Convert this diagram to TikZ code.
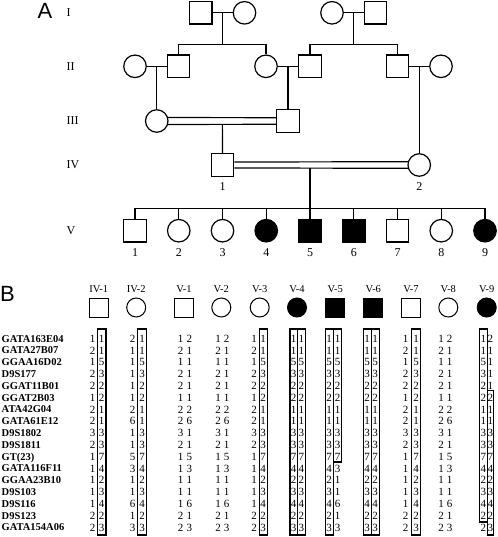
\documentclass[tikz,border=0pt]{standalone}
\usepackage{fontspec}
\setmainfont{Liberation Serif}
\newfontfamily\panelfont{Liberation Sans}
\usetikzlibrary{calc}
\def\hapA{1,1,5,3,2,2,1,1,3,3,7,4,2,3,4,2,3}
\def\hapB{1,2,1,2,2,1,2,2,3,2,1,1,1,1,1,2,2}
\def\hapC{2,1,1,1,1,1,2,6,1,1,5,3,1,1,6,1,3}
\def\hapD{1,1,5,3,2,2,1,1,3,3,7,3,1,1,6,1,3}
\def\hapE{1,1,5,3,2,2,1,1,3,3,7,4,2,3,4,2,2}
\def\hapF{2,1,1,1,1,2,1,1,3,3,7,4,2,3,4,2,3}
\newcommand\allelecol[3]{%
  \foreach \v [count=\r] in #3 {
    \node[dg] (#1-\r) at (#2, {338.5+(\r-1)*11.8+3.7}) {\v};
  }}
\newcommand\hapbox[4]{\draw[bx] (#1,#3) rectangle (#2,#4);}
\begin{document}
\begin{tikzpicture}[x=1pt,y=-1pt,
  pl/.style={line width=1.2pt},
  msq/.style={draw, line width=1.2pt, minimum size=22.5pt, inner sep=0pt},
  fci/.style={circle, draw, line width=1.2pt, minimum size=22.5pt, inner sep=0pt},
  aff/.style={fill=black},
  gen/.style={anchor=base west, font=\fontsize{12}{14}\selectfont, inner sep=0pt},
  num/.style={anchor=base, font=\fontsize{12}{14}\selectfont, inner sep=0pt},
  panel/.style={font=\panelfont\fontsize{22}{24}\selectfont, inner sep=0pt},
  hdr/.style={anchor=base, font=\fontsize{10.5}{12}\selectfont, inner sep=0pt},
  bsq/.style={draw, line width=1pt, minimum size=19pt, inner sep=0pt},
  bci/.style={circle, draw, line width=1pt, minimum size=19pt, inner sep=0pt},
  mk/.style={anchor=base west, font=\bfseries\fontsize{10.5}{12}\selectfont, inner sep=0pt},
  dg/.style={anchor=base, font=\fontsize{11}{12}\selectfont, inner sep=0pt},
  bx/.style={draw, line width=1.2pt}
]
\useasboundingbox (0,0) rectangle (497,537);

% ---------- Panel A ----------
\node[panel] (labA) at (45,11) {A};
\node[gen] (gI) at (66.5,12.8+3.9) {I};
\node[gen] (gII) at (66.5,66.5+3.9) {II};
\node[gen] (gIII) at (66.5,121+3.9) {III};
\node[gen] (gIV) at (66.5,165+3.9) {IV};
\node[gen] (gV) at (66.5,230.7+3.9) {V};

% generation I
\node[msq] (i1) at (200.7,12.8) {};
\node[fci] (i2) at (244.5,12.8) {};
\node[fci] (i3) at (332,12.8) {};
\node[msq] (i4) at (375.5,12.8) {};
% generation II
\node[fci] (ii1) at (135,66.3) {};
\node[msq] (ii2) at (178.5,66.3) {};
\node[fci] (ii3) at (266,66.3) {};
\node[msq] (ii4) at (310,66.3) {};
\node[msq] (ii5) at (397.5,66.3) {};
\node[fci] (ii6) at (441,66.3) {};
% generation III
\node[fci] (iii1) at (156.75,121) {};
\node[msq] (iii2) at (288,121) {};
% generation IV
\node[msq] (iv1) at (222.5,165) {};
\node[fci] (iv2) at (419.25,165) {};
\node[num] (iv1l) at (222.5,186.7+4) {1};
\node[num] (iv2l) at (419.25,186.7+4) {2};
% generation V
\foreach \k/\s/\f in {1/msq/,2/fci/,3/fci/,4/fci/aff,5/msq/aff,6/msq/aff,7/msq/,8/fci/,9/fci/aff} {
  \node[\s,\f] (v\k) at ({135+(\k-1)*43.75},230.7) {};
  \node[num] (v\k l) at ({135+(\k-1)*43.75},252.7+4) {\k};
}

% couple & descent lines
\coordinate (s1) at (0,44.3);
\coordinate (s2) at (0,44.3);
\draw[pl] (i1) -- (i2);
\coordinate (m1) at ($(i1)!0.5!(i2)$);
\draw[pl] (m1) -- (m1 |- s1);
\draw[pl] (ii2.north) -- (ii2.north |- s1) -- (ii3.north |- s1) -- (ii3.north);
\draw[pl] (i3) -- (i4);
\coordinate (m2) at ($(i3)!0.5!(i4)$);
\draw[pl] (m2) -- (m2 |- s2);
\draw[pl] (ii4.north) -- (ii4.north |- s2) -- (ii5.north |- s2) -- (ii5.north);

\draw[pl] (ii1) -- (ii2);
\coordinate (m3) at ($(ii1)!0.5!(ii2)$);
\draw[pl] (m3) -- (iii1.north);
\draw[pl] (ii3) -- (ii4);
\coordinate (m4) at ($(ii3)!0.5!(ii4)$);
\draw[pl] (m4) -- (iii2.north);
\draw[pl] (ii5) -- (ii6);
\coordinate (m5) at ($(ii5)!0.5!(ii6)$);
\draw[pl] (m5) -- (iv2.north);

% consanguineous marriage III
\draw[pl] (iii1.17) -- ([yshift=3.3pt]iii2.west);
\draw[pl] (iii1.-17) -- ([yshift=-3.3pt]iii2.west);
\coordinate (m6) at ($(iii1)!0.5!(iii2)$);
\draw[pl] ([yshift=-3.3pt]m6) -- (iv1.north);
% consanguineous marriage IV
\draw[pl] ([yshift=3pt]iv1.east) -- (iv2.164);
\draw[pl] ([yshift=-3pt]iv1.east) -- (iv2.-164);
\coordinate (s3) at (0,208.3);
\draw[pl] ([yshift=-3pt]v5 |- iv1.east) -- (v5 |- s3);
\draw[pl] (v1.north) -- (v1.north |- s3) -- (v9.north |- s3) -- (v9.north);
\foreach \k in {2,...,8} { \draw[pl] (v\k.north) -- (v\k.north |- s3); }

% ---------- Panel B ----------
\node[panel] (labB) at (7.5,294) {B};
\foreach \n/\t/\x/\s/\f in {
  b1/IV-1/98.8/bsq/, b2/IV-2/136.2/bci/, b3/V-1/184/bsq/, b4/V-2/221.3/bci/,
  b5/V-3/259.7/bci/, b6/V-4/297/bci/aff, b7/V-5/335.3/bsq/aff, b8/V-6/373.3/bsq/aff,
  b9/V-7/411/bsq/, b10/V-8/448.3/bci/, b11/V-9/486.7/bci/aff} {
  \node[hdr] (\n h) at (\x,292.5) {\t};
  \node[\s,\f] (\n) at (\x,307.5) {};
}

\foreach \m [count=\r] in {GATA163E04,GATA27B07,GGAA16D02,D9S177,GGAT11B01,GGAT2B03,
  ATA42G04,GATA61E12,D9S1802,D9S1811,GT(23),GATA116F11,GGAA23B10,D9S103,D9S116,D9S123,GATA154A06} {
  \node[mk] (mk\r) at (1.5, {338.5+(\r-1)*11.8+3.6}) {\m};
}

% IV-1
\allelecol{c1a}{92.5}{\hapB}
\allelecol{c1b}{101.6}{\hapA}
\hapbox{97.6}{106}{329}{535}
% IV-2
\allelecol{c2a}{132.7}{\hapC}
\allelecol{c2b}{142}{\hapA}
\hapbox{137.7}{146.6}{329}{535}
% V-1
\allelecol{c3a}{180.7}{\hapB}
\allelecol{c3b}{189.3}{\hapC}
% V-2
\allelecol{c4a}{218}{\hapB}
\allelecol{c4b}{226.6}{\hapC}
% V-3
\allelecol{c5a}{254}{\hapB}
\allelecol{c5b}{263.2}{\hapA}
\hapbox{259.3}{267.5}{329}{535}
% V-4
\allelecol{c6a}{293.7}{\hapA}
\allelecol{c6b}{301.3}{\hapA}
\hapbox{290}{297.5}{329}{535}
\hapbox{297.5}{305.2}{329}{535}
% V-5
\allelecol{c7a}{329.1}{\hapA}
\allelecol{c7b}{337.5}{\hapD}
\hapbox{325.2}{333.4}{329}{535}
\hapbox{333.4}{341.7}{329}{462}
% V-6
\allelecol{c8a}{367.1}{\hapA}
\allelecol{c8b}{375.2}{\hapA}
\hapbox{363.3}{371.1}{329}{535}
\hapbox{371.1}{379.3}{329}{535}
% V-7
\allelecol{c9a}{405.7}{\hapB}
\allelecol{c9b}{416}{\hapA}
\hapbox{411.8}{420.1}{329}{535}
% V-8
\allelecol{c10a}{441}{\hapB}
\allelecol{c10b}{449.5}{\hapC}
% V-9
\allelecol{c11a}{483.3}{\hapE}
\allelecol{c11b}{490.3}{\hapF}
\hapbox{479.3}{487.3}{329}{522}
\hapbox{487.3}{493.2}{390.5}{535}
\end{tikzpicture}
\end{document}
